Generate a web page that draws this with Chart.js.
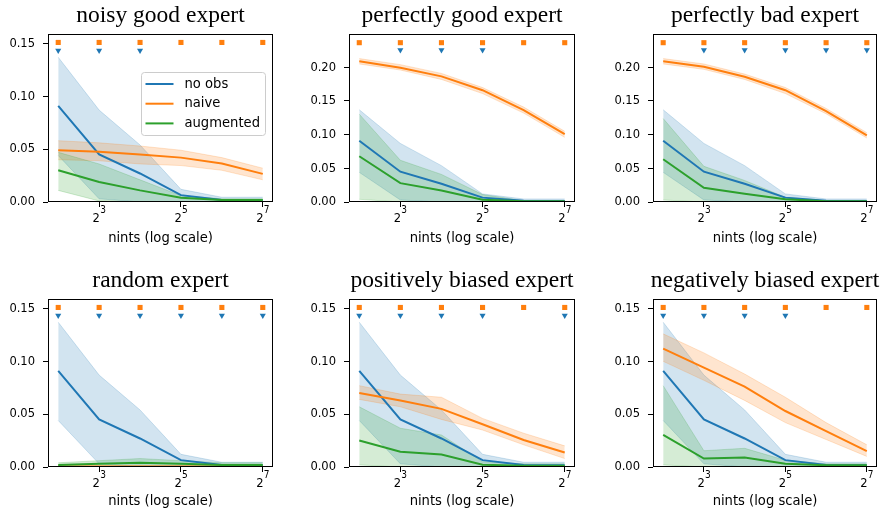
<!DOCTYPE html>
<html>
<head>
<meta charset="utf-8">
<script src="https://cdn.jsdelivr.net/npm/chart.js@4.4.0/dist/chart.umd.min.js"></script>
<style>
  html, body { margin: 0; padding: 0; background: #fff; }
  #wrap { position: relative; width: 883px; height: 508px; overflow: hidden; }
  canvas { position: absolute; }
</style>
</head>
<body>
<div id="wrap"></div>
<script>
// x values (nints) and axis ticks
const nints = [4, 8, 16, 32, 64, 128];
const xTickValues = [8, 32, 128];
const xTickExponents = ['3', '5', '7'];

const panelTitles = ['noisy good expert', 'perfectly good expert', 'perfectly bad expert',
  'random expert', 'positively biased expert', 'negatively biased expert'];

const yTicksSmall = [0, 0.05, 0.10, 0.15];
const yTicksLarge = [0, 0.05, 0.10, 0.15, 0.20];
const yTicksPerPanel = [yTicksSmall, yTicksLarge, yTicksLarge, yTicksSmall, yTicksSmall, yTicksSmall];
const yMaxPerPanel = [0.159, 0.2495, 0.2495, 0.159, 0.159, 0.159];

// "no obs" is the same baseline in every panel
const noObsMean = [0.091, 0.045, 0.027, 0.0065, 0.0018, 0.0016];
const noObsLow  = [0.044, 0.003, 0, 0, 0, 0];
const noObsHigh = [0.137, 0.087, 0.054, 0.012, 0.0045, 0.0045];

// naive, one row per panel
const naiveMean = [
  [0.049, 0.0475, 0.045, 0.042, 0.0364, 0.0266],
  [0.209, 0.1995, 0.1866, 0.166, 0.1365, 0.1007],
  [0.209, 0.201, 0.186, 0.166, 0.135, 0.099],
  [0.0005, 0.0005, 0.0005, 0.0005, 0.0005, 0.0005],
  [0.070, 0.063, 0.055, 0.0405, 0.0255, 0.0137],
  [0.112, 0.094, 0.076, 0.053, 0.034, 0.015]
];
const naiveLow = [
  [0.040, 0.039, 0.036, 0.0345, 0.030, 0.021],
  [0.205, 0.196, 0.182, 0.161, 0.132, 0.096],
  [0.205, 0.197, 0.182, 0.161, 0.131, 0.095],
  [0, 0, 0, 0, 0, 0],
  [0.064, 0.057, 0.045, 0.035, 0.021, 0.008],
  [0.100, 0.082, 0.063, 0.042, 0.026, 0.010]
];
const naiveHigh = [
  [0.058, 0.056, 0.053, 0.049, 0.042, 0.032],
  [0.213, 0.204, 0.191, 0.170, 0.141, 0.105],
  [0.213, 0.205, 0.190, 0.170, 0.139, 0.103],
  [0.001, 0.001, 0.001, 0.001, 0.001, 0.001],
  [0.077, 0.069, 0.066, 0.046, 0.032, 0.020],
  [0.126, 0.108, 0.088, 0.066, 0.042, 0.021]
];

// augmented, one row per panel
const augMean = [
  [0.030, 0.019, 0.011, 0.004, 0.002, 0.002],
  [0.068, 0.028, 0.017, 0.0035, 0.001, 0.001],
  [0.0635, 0.021, 0.0124, 0.004, 0.001, 0.001],
  [0.002, 0.003, 0.004, 0.003, 0.002, 0.002],
  [0.025, 0.0144, 0.0118, 0.0022, 0.0013, 0.0013],
  [0.0305, 0.008, 0.009, 0.003, 0.0016, 0.0016]
];
const augLow = [
  [0.011, 0.001, 0, 0, 0, 0],
  [0.004, 0, 0, 0, 0, 0],
  [0.003, 0, 0, 0, 0, 0],
  [0, 0, 0.0005, 0, 0, 0],
  [0.002, 0, 0, 0, 0, 0],
  [0.002, 0, 0, 0, 0, 0]
];
const augHigh = [
  [0.047, 0.036, 0.021, 0.006, 0.003, 0.003],
  [0.1305, 0.062, 0.041, 0.011, 0.002, 0.002],
  [0.124, 0.053, 0.032, 0.007, 0.002, 0.002],
  [0.004, 0.006, 0.008, 0.006, 0.004, 0.004],
  [0.057, 0.0367, 0.0303, 0.005, 0.003, 0.003],
  [0.077, 0.0154, 0.0177, 0.0064, 0.003, 0.003]
];

// significance markers (1 = shown)
const naiveMarks = [
  [1, 1, 1, 1, 1, 1], [1, 1, 1, 1, 1, 1], [1, 1, 1, 1, 1, 1],
  [1, 1, 1, 1, 1, 1], [1, 1, 1, 1, 1, 1], [1, 1, 1, 1, 1, 1]
];
const noObsMarks = [
  [1, 1, 1, 0, 0, 0], [0, 1, 1, 1, 0, 0], [0, 1, 1, 1, 1, 1],
  [1, 1, 1, 1, 1, 1], [1, 1, 1, 1, 0, 1], [1, 1, 1, 1, 0, 0]
];
const naiveMarkY = [0.151, 0.2366, 0.2366, 0.151, 0.151, 0.151];
const noObsMarkY = [0.1435, 0.2257, 0.2257, 0.1435, 0.1435, 0.1435];

const BLUE = '#1f77b4', ORANGE = '#ff7f0e', GREEN = '#2ca02c';
const rgba = (hex, a) => {
  const n = parseInt(hex.slice(1), 16);
  return `rgba(${n >> 16},${(n >> 8) & 255},${n & 255},${a})`;
};

// page layout
const cellX = [[0, 300], [300, 600], [600, 883]];
const cellY = [[0, 254], [254, 508]];
const plotLeft = [48, 349, 653];
const plotRight = [273, 575, 877];
const plotTop = [34, 299];
const plotBottom = [202, 467];
const xLabelOffset = [39.5, 37.5];

const SANS = '"DejaVu Sans Condensed", "DejaVu Sans", sans-serif';
const TICK_FONT = { family: SANS, size: 12.8 };
const LABEL_FONT = '14.6px ' + SANS;
const TITLE_FONT = '23.5px "Liberation Serif", "Times New Roman", serif';

const pts = arr => nints.map((n, i) => ({ x: n, y: arr[i] }));
const marks = (mask, y) => nints.map((n, i) => ({ x: n, y: mask[i] ? y : null }));

function panelDatasets(p) {
  const line = (label, data, color, order) => ({
    label, data: pts(data), borderColor: color, borderWidth: 2,
    pointRadius: 0, fill: false, tension: 0, order
  });
  const bandHi = (data, color, target, order) => ({
    data: pts(data), borderColor: rgba(color, 0.2), borderWidth: 1,
    backgroundColor: rgba(color, 0.2), pointRadius: 0, fill: target, tension: 0, order
  });
  const bandLo = (data, color, order) => ({
    data: pts(data), borderColor: rgba(color, 0.2), borderWidth: 1,
    pointRadius: 0, fill: false, tension: 0, order
  });
  return [
    bandHi(noObsHigh, BLUE, 1, 9), bandLo(noObsLow, BLUE, 9),            // 0,1
    bandHi(naiveHigh[p], ORANGE, 3, 8), bandLo(naiveLow[p], ORANGE, 8),  // 2,3
    bandHi(augHigh[p], GREEN, 5, 7), bandLo(augLow[p], GREEN, 7),        // 4,5
    line('no obs', noObsMean, BLUE, 4),
    line('naive', naiveMean[p], ORANGE, 3),
    line('augmented', augMean[p], GREEN, 2),
    { data: marks(noObsMarks[p], noObsMarkY[p]), showLine: false, pointStyle: 'triangle',
      rotation: 180, pointRadius: 3.5, backgroundColor: BLUE, borderWidth: 0, order: 1 },
    { data: marks(naiveMarks[p], naiveMarkY[p]), showLine: false, pointStyle: 'rect',
      pointRadius: 3.6, backgroundColor: ORANGE, borderWidth: 0, order: 0 }
  ];
}

const decorPlugin = {
  id: 'decor',
  afterDraw(chart) {
    const { ctx, chartArea: a } = chart;
    const p = chart.options.panelIndex;
    const row = Math.floor(p / 3);
    ctx.save();
    // frame
    ctx.strokeStyle = '#000';
    ctx.lineWidth = 1;
    ctx.strokeRect(Math.round(a.left) + 0.5, Math.round(a.top) + 0.5,
      Math.round(a.right - a.left) - 1, Math.round(a.bottom - a.top) - 1);
    ctx.fillStyle = '#000';
    // x tick labels as 2 with a raised exponent
    const xs = chart.scales.x;
    ctx.textBaseline = 'alphabetic';
    ctx.textAlign = 'left';
    xTickValues.forEach((v, i) => {
      const px = xs.getPixelForValue(v);
      ctx.font = '12.8px ' + SANS;
      const wBase = ctx.measureText('2').width;
      ctx.font = '10px ' + SANS;
      const wExp = ctx.measureText(xTickExponents[i]).width;
      const x0 = px - (wBase + wExp) / 2;
      ctx.font = '12.8px ' + SANS;
      ctx.fillText('2', x0, a.bottom + 19.5);
      ctx.font = '10px ' + SANS;
      ctx.fillText(xTickExponents[i], x0 + wBase + 0.2, a.bottom + 10.5);
    });
    // title
    ctx.font = TITLE_FONT;
    ctx.textAlign = 'center';
    ctx.fillText(panelTitles[p], (a.left + a.right) / 2, a.top - 12.5);
    // x label
    ctx.font = LABEL_FONT;
    ctx.fillText('nints (log scale)', (a.left + a.right) / 2, a.bottom + xLabelOffset[row]);
    // legend in the first panel
    if (p === 0) {
      const bx = a.left + 93.5, by = a.top + 38.5, bw = 124, bh = 63;
      ctx.beginPath();
      ctx.roundRect(bx, by, bw, bh, 3);
      ctx.fillStyle = 'rgba(255,255,255,0.8)';
      ctx.fill();
      ctx.strokeStyle = '#cccccc';
      ctx.stroke();
      const items = [['no obs', BLUE], ['naive', ORANGE], ['augmented', GREEN]];
      ctx.textAlign = 'left';
      ctx.textBaseline = 'middle';
      items.forEach(([label, color], i) => {
        const y = by + 11.5 + i * 19.7;
        ctx.strokeStyle = color;
        ctx.lineWidth = 2;
        ctx.beginPath();
        ctx.moveTo(bx + 4, y);
        ctx.lineTo(bx + 32, y);
        ctx.stroke();
        ctx.fillStyle = '#000';
        ctx.fillText(label, bx + 43, y);
      });
    }
    ctx.restore();
  }
};

const wrap = document.getElementById('wrap');
panelTitles.forEach((title, p) => {
  const col = p % 3, row = Math.floor(p / 3);
  const [cx0, cx1] = cellX[col], [cy0, cy1] = cellY[row];
  const canvas = document.createElement('canvas');
  canvas.width = cx1 - cx0;
  canvas.height = cy1 - cy0;
  canvas.style.left = cx0 + 'px';
  canvas.style.top = cy0 + 'px';
  canvas.style.width = canvas.width + 'px';
  canvas.style.height = canvas.height + 'px';
  wrap.appendChild(canvas);

  const yWidth = plotLeft[col] - cx0;
  const xHeight = cy1 - plotBottom[row];
  const yTicks = yTicksPerPanel[p];

  new Chart(canvas, {
    type: 'line',
    data: { datasets: panelDatasets(p) },
    plugins: [decorPlugin],
    options: {
      panelIndex: p,
      responsive: false,
      animation: false,
      devicePixelRatio: 1,
      events: [],
      layout: { padding: { left: 0, right: cx1 - plotRight[col], top: plotTop[row] - cy0, bottom: 0 } },
      plugins: { legend: { display: false }, tooltip: { enabled: false }, filler: { propagate: false } },
      scales: {
        x: {
          type: 'logarithmic',
          min: Math.pow(2, 1.75),
          max: Math.pow(2, 7.25),
          afterBuildTicks: s => { s.ticks = xTickValues.map(v => ({ value: v })); },
          afterFit: s => { s.height = xHeight; },
          grid: { drawOnChartArea: false, drawTicks: true, tickLength: 5, color: '#000', lineWidth: 1 },
          border: { display: false },
          ticks: { display: false, autoSkip: false }
        },
        y: {
          type: 'linear',
          min: 0,
          max: yMaxPerPanel[p],
          afterBuildTicks: s => { s.ticks = yTicks.map(v => ({ value: v })); },
          afterFit: s => { s.width = yWidth; },
          grid: { drawOnChartArea: false, drawTicks: true, tickLength: 5, color: '#000', lineWidth: 1 },
          border: { display: false },
          ticks: {
            color: '#000', font: TICK_FONT, padding: 8, autoSkip: false,
            callback: v => v.toFixed(2)
          }
        }
      }
    }
  });
});
</script>
</body>
</html>
